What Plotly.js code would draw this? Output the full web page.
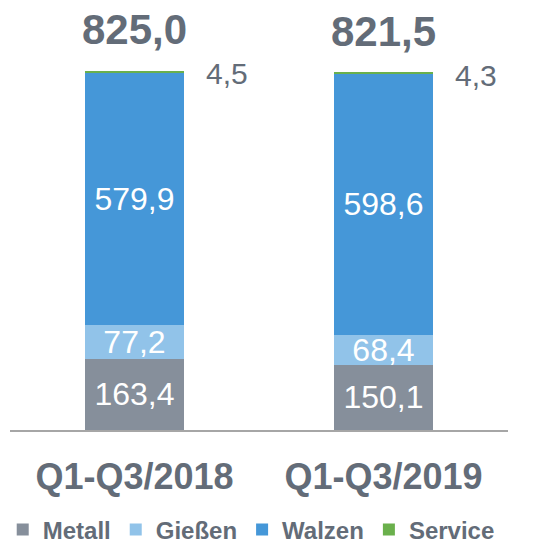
<!DOCTYPE html>
<html><head><meta charset="utf-8">
<script src="https://cdn.plot.ly/plotly-3.0.1.min.js"></script>
<style>html,body{margin:0;padding:0;background:#fff}#chart{width:544px;height:543px}</style>
</head><body><div id="chart"></div>
<script>
const categories = ['Q1-Q3/2018', 'Q1-Q3/2019'];
const metall = [163.4, 150.1];
const giessen = [77.2, 68.4];
const walzen = [579.9, 598.6];
const service = [4.5, 4.3];
const totals = [825.0, 821.5];

const fmt = v => v.toFixed(1).replace('.', ',');
const txtColor = '#636c78';
const FONT = 'Liberation Sans, Arial, sans-serif';

function seg(name, vals, color, showText) {
  return {
    type: 'bar', name: name, x: categories, y: vals,
    marker: {color: color, line: {width: 0}},
    text: showText ? vals.map(fmt) : vals.map(() => ''),
    textposition: 'inside', insidetextanchor: 'middle',
    textfont: {color: '#ffffff', size: 32, family: FONT},
    constraintext: 'none', hoverinfo: 'none', width: 0.4
  };
}
const data = [
  seg('Metall', metall, '#868f9b', true),
  seg('Gießen', giessen, '#91c3e9', true),
  seg('Walzen', walzen, '#4597d8', true),
  seg('Service', service, '#6ab04c', false)
];

const annotations = [];
categories.forEach((c, i) => {
  annotations.push({x: i, y: totals[i], xref: 'x', yref: 'y', text: '<b>' + fmt(totals[i]) + '</b>',
    showarrow: false, yanchor: 'middle', yshift: 41, font: {size: 42, color: txtColor, family: FONT}});
  annotations.push({x: i + 0.28, y: totals[i], xref: 'x', yref: 'y', text: fmt(service[i]),
    showarrow: false, xanchor: 'left', yanchor: 'middle', yshift: -3, font: {size: 30, color: txtColor, family: FONT}});
});

const layout = {
  width: 544, height: 543,
  margin: {l: 10, r: 36, t: 38, b: 113, autoexpand: false},
  barmode: 'stack', bargap: 0.6,
  paper_bgcolor: '#fff', plot_bgcolor: '#fff',
  showlegend: true,
  legend: {orientation: 'h', xref: 'container', yref: 'container', x: 0.005, xanchor: 'left', y: 0.024, yanchor: 'middle',
    font: {size: 24, color: txtColor, family: FONT, weight: 'bold'}, traceorder: 'normal', itemwidth: 30, tracegroupgap: 0},
  xaxis: {range: [-0.5, 1.5], showline: true, linecolor: '#a6a6a6', linewidth: 2, ticks: 'outside', ticklen: 14, tickcolor: 'rgba(0,0,0,0)',
    tickfont: {size: 36, color: txtColor, family: FONT, weight: 'bold'}, fixedrange: true, showgrid: false, zeroline: false},
  yaxis: {range: [0, 900], visible: false, showgrid: false, zeroline: false, fixedrange: true},
  annotations: annotations
};
Plotly.newPlot('chart', data, layout, {displayModeBar: false, staticPlot: true});
</script></body></html>
